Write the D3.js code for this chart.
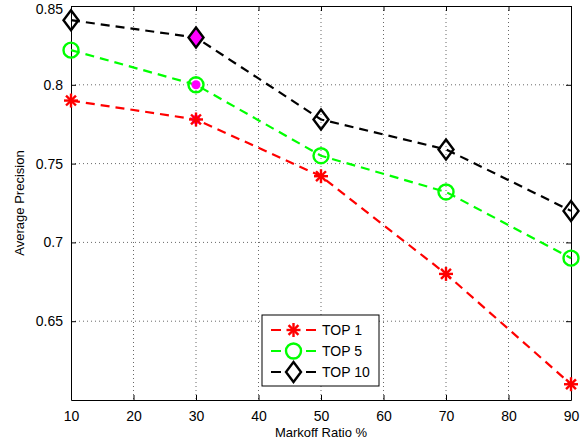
<!DOCTYPE html>
<html>
<head>
<meta charset="utf-8">
<script src="https://cdn.jsdelivr.net/npm/d3@7"></script>
<style>
  body { margin: 0; background: #fff; }
  text { font-family: "Liberation Sans", Arial, sans-serif; }
</style>
</head>
<body>
<div id="graph"></div>
<script>
const ratios = [10, 30, 50, 70, 90];
const top1 = [0.790, 0.778, 0.742, 0.680, 0.610];
const top5 = [0.822, 0.800, 0.755, 0.732, 0.690];
const top10 = [0.841, 0.830, 0.778, 0.759, 0.720];
const xTicks = [10, 20, 30, 40, 50, 60, 70, 80, 90];
const yTicks = [0.65, 0.7, 0.75, 0.8, 0.85];
const seriesNames = ["TOP 1", "TOP 5", "TOP 10"];

const W = 587, H = 444;
const plotL = 71, plotR = 571, plotT = 6, plotB = 400;

const x = d3.scaleLinear().domain([10, 90]).range([plotL, plotR]);
const y = d3.scaleLinear().domain([0.6, 0.85]).range([plotB, plotT]);

const svg = d3.select("#graph").append("svg")
  .attr("width", W).attr("height", H);

// grid
svg.append("g").selectAll("line").data(xTicks.slice(1, -1)).enter().append("line")
  .attr("x1", d => x(d)).attr("x2", d => x(d))
  .attr("y1", plotT).attr("y2", plotB)
  .attr("stroke", "#000").attr("stroke-width", 0.6).attr("stroke-dasharray", "1,3");
svg.append("g").selectAll("line").data(yTicks.slice(0, -1)).enter().append("line")
  .attr("y1", d => y(d)).attr("y2", d => y(d))
  .attr("x1", plotL).attr("x2", plotR)
  .attr("stroke", "#000").attr("stroke-width", 0.6).attr("stroke-dasharray", "1,3");

// axes (ticks inward)
const xAxis = d3.axisBottom(x).tickValues(xTicks).tickSizeInner(-5).tickSizeOuter(0).tickPadding(11);
const yAxis = d3.axisLeft(y).tickValues(yTicks).tickSizeInner(-5).tickSizeOuter(0).tickPadding(8)
  .tickFormat(d3.format("~g"));
const xTop = d3.axisTop(x).tickValues(xTicks).tickSizeInner(-5).tickSizeOuter(0).tickFormat("");
const yRight = d3.axisRight(y).tickValues(yTicks).tickSizeInner(-5).tickSizeOuter(0).tickFormat("");

function styleAxis(g) {
  g.selectAll("path, line").attr("stroke", "#000").attr("stroke-width", 1);
  g.selectAll("text").attr("font-size", 14).attr("fill", "#000")
    .attr("font-family", "'Liberation Sans', Arial, sans-serif");
}
svg.append("g").attr("transform", `translate(0,${plotB})`).call(xAxis).call(styleAxis);
const gy = svg.append("g").attr("transform", `translate(${plotL},0)`).call(yAxis).call(styleAxis);
// keep the top label inside the picture
gy.selectAll(".tick text").filter(d => d === 0.85).attr("dy", "0.5em");
svg.append("g").attr("transform", `translate(0,${plotT})`).call(xTop).call(styleAxis);
svg.append("g").attr("transform", `translate(${plotR},0)`).call(yRight).call(styleAxis);

// labels
svg.append("text").attr("x", (plotL + plotR) / 2).attr("y", 437)
  .attr("text-anchor", "middle").attr("font-size", 13).text("Markoff Ratio %");
svg.append("text").attr("transform", `translate(24,${(plotT + plotB) / 2}) rotate(-90)`)
  .attr("text-anchor", "middle").attr("font-size", 13).text("Average Precision");

const series = [
  { name: seriesNames[0], values: top1, color: "#ff0000", marker: "star" },
  { name: seriesNames[1], values: top5, color: "#00ff00", marker: "circle" },
  { name: seriesNames[2], values: top10, color: "#000000", marker: "diamond" }
];

const line = d3.line().x((d, i) => x(ratios[i])).y(d => y(d));

function drawMarker(g, type, color, cx, cy, fill) {
  if (type === "star") {
    if (fill) g.append("circle").attr("cx", cx).attr("cy", cy).attr("r", 4.5).attr("fill", fill);
    const r = 7;
    for (let k = 0; k < 4; k++) {
      const a = k * Math.PI / 4;
      g.append("line")
        .attr("x1", cx - r * Math.cos(a)).attr("y1", cy - r * Math.sin(a))
        .attr("x2", cx + r * Math.cos(a)).attr("y2", cy + r * Math.sin(a))
        .attr("stroke", color).attr("stroke-width", 2.4);
    }
  } else if (type === "circle") {
    g.append("circle").attr("cx", cx).attr("cy", cy).attr("r", 7.5)
      .attr("fill", "none").attr("stroke", color).attr("stroke-width", 2.4);
    if (fill) g.append("circle").attr("cx", cx).attr("cy", cy).attr("r", 4.5).attr("fill", fill);
  } else {
    const r = 10;
    g.append("path")
      .attr("d", `M${cx},${cy - r}L${cx + r * 0.75},${cy}L${cx},${cy + r}L${cx - r * 0.75},${cy}Z`)
      .attr("fill", fill || "none").attr("stroke", color).attr("stroke-width", 2.4);
  }
}

series.forEach(s => {
  svg.append("path").datum(s.values)
    .attr("d", line).attr("fill", "none")
    .attr("stroke", s.color).attr("stroke-width", 2.2)
    .attr("stroke-dasharray", "9,6");
  const g = svg.append("g");
  s.values.forEach((v, i) => {
    drawMarker(g, s.marker, s.color, x(ratios[i]), y(v), ratios[i] === 30 ? "#ff00ff" : null);
  });
});

// legend
const lg = svg.append("g").attr("transform", "translate(262,315)");
lg.append("rect").attr("width", 117).attr("height", 71)
  .attr("fill", "#fff").attr("stroke", "#000").attr("stroke-width", 1);
series.forEach((s, i) => {
  const yy = 15 + i * 21;
  lg.append("line").attr("x1", 9).attr("x2", 54).attr("y1", yy).attr("y2", yy)
    .attr("stroke", s.color).attr("stroke-width", 2.2).attr("stroke-dasharray", "10,25,10");
  drawMarker(lg, s.marker, s.color, 31.5, yy, null);
  lg.append("text").attr("x", 60).attr("y", yy + 5).attr("font-size", 14).text(s.name);
});
</script>
</body>
</html>
